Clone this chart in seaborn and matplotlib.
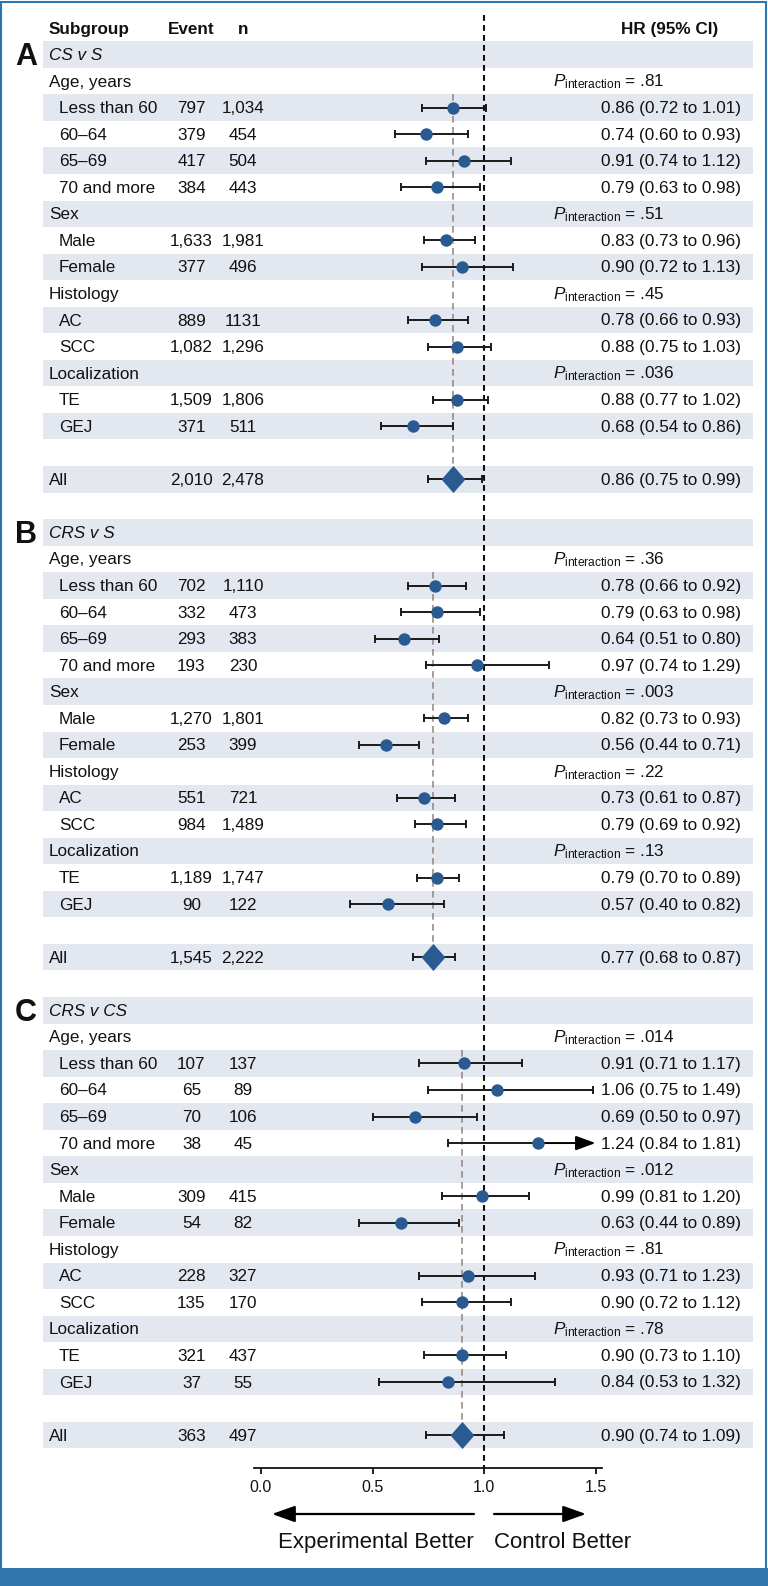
import numpy as np
import pandas as pd
import matplotlib
matplotlib.use("Agg")
import matplotlib.pyplot as plt
import seaborn as sns
from matplotlib.patches import Rectangle

# ---- data ----
panel_letters = ["A", "B", "C"]
comparisons = ["CS v S", "CRS v S", "CRS v CS"]
group_names = ["Age, years", "Sex", "Histology", "Localization"]
subgroup_names = [["Less than 60", "60\u201364", "65\u201369", "70 and more"],
                  ["Male", "Female"], ["AC", "SCC"], ["TE", "GEJ"]]

# A: CS v S (last entry is "All")
events_a = ["797", "379", "417", "384", "1,633", "377", "889", "1,082", "1,509", "371", "2,010"]
n_a = ["1,034", "454", "504", "443", "1,981", "496", "1131", "1,296", "1,806", "511", "2,478"]
hr_a = [0.86, 0.74, 0.91, 0.79, 0.83, 0.90, 0.78, 0.88, 0.88, 0.68, 0.86]
lo_a = [0.72, 0.60, 0.74, 0.63, 0.73, 0.72, 0.66, 0.75, 0.77, 0.54, 0.75]
hi_a = [1.01, 0.93, 1.12, 0.98, 0.96, 1.13, 0.93, 1.03, 1.02, 0.86, 0.99]
p_a = [".81", ".51", ".45", ".036"]

# B: CRS v S
events_b = ["702", "332", "293", "193", "1,270", "253", "551", "984", "1,189", "90", "1,545"]
n_b = ["1,110", "473", "383", "230", "1,801", "399", "721", "1,489", "1,747", "122", "2,222"]
hr_b = [0.78, 0.79, 0.64, 0.97, 0.82, 0.56, 0.73, 0.79, 0.79, 0.57, 0.77]
lo_b = [0.66, 0.63, 0.51, 0.74, 0.73, 0.44, 0.61, 0.69, 0.70, 0.40, 0.68]
hi_b = [0.92, 0.98, 0.80, 1.29, 0.93, 0.71, 0.87, 0.92, 0.89, 0.82, 0.87]
p_b = [".36", ".003", ".22", ".13"]

# C: CRS v CS
events_c = ["107", "65", "70", "38", "309", "54", "228", "135", "321", "37", "363"]
n_c = ["137", "89", "106", "45", "415", "82", "327", "170", "437", "55", "497"]
hr_c = [0.91, 1.06, 0.69, 1.24, 0.99, 0.63, 0.93, 0.90, 0.90, 0.84, 0.90]
lo_c = [0.71, 0.75, 0.50, 0.84, 0.81, 0.44, 0.71, 0.72, 0.73, 0.53, 0.74]
hi_c = [1.17, 1.49, 0.97, 1.81, 1.20, 0.89, 1.23, 1.12, 1.10, 1.32, 1.09]
p_c = [".014", ".012", ".81", ".78"]

x_ticks = [0.0, 0.5, 1.0, 1.5]
x_ticklabels = ["0.0", "0.5", "1.0", "1.5"]

panels = [
    (events_a, n_a, hr_a, lo_a, hi_a, p_a),
    (events_b, n_b, hr_b, lo_b, hi_b, p_b),
    (events_c, n_c, hr_c, lo_c, hi_c, p_c),
]

# ---- style ----
sns.set_theme(style="white")
plt.rcParams["font.family"] = ["Liberation Sans", "DejaVu Sans"]
plt.rcParams["mathtext.fontset"] = "custom"
plt.rcParams["mathtext.rm"] = "Liberation Sans"
plt.rcParams["mathtext.it"] = "Liberation Sans:italic"
plt.rcParams["mathtext.bf"] = "Liberation Sans:bold"

BLUE = "#2a5a92"
BAND = "#e2e7f0"
BROWN = "#9c8b84"
FRAME = "#3175ae"
FS = 12.3

W, H, DPI = 768, 1586, 100
X0, UNIT = 261.0, 223.0      # pixel of HR=0, pixels per HR unit
Y0, RH = 54.5, 26.55         # centre of first row, row height
AXIS_Y = 1468
XMAX = 1.5


def hx(px):
    """pixel column -> HR units"""
    return (px - X0) / UNIT


def row_y(p, i):
    return Y0 + (18 * p + i) * RH


# build a long table of plotted rows
records = []
for p, (ev, nn, hr, lo, hi, pv) in enumerate(panels):
    k = 0
    i = 1
    for g, subs in enumerate(subgroup_names):
        i += 1
        for s in subs:
            records.append(dict(panel=p, y=row_y(p, i), label=s, event=ev[k], n=nn[k],
                                hr=hr[k], lo=lo[k], hi=hi[k], kind="sub"))
            k += 1
            i += 1
    records.append(dict(panel=p, y=row_y(p, 16), label="All", event=ev[k], n=nn[k],
                        hr=hr[k], lo=lo[k], hi=hi[k], kind="all"))
df = pd.DataFrame(records)

fig = plt.figure(figsize=(W / DPI, H / DPI), dpi=DPI)
ax = fig.add_axes([0, 0, 1, 1])

# shaded bands
for p in range(3):
    for i in range(0, 17, 2):
        yc = row_y(p, i)
        ax.axhspan(yc - RH / 2, yc + RH / 2, xmin=43 / W, xmax=753 / W,
                   color=BAND, lw=0, zorder=0)

# reference line at HR = 1
ax.vlines(1.0, 15, AXIS_Y, colors="#111111", lw=1.5, linestyles=(0, (2.8, 2.0)), zorder=2)

# overall-estimate lines
for p in range(3):
    overall = df[(df.panel == p) & (df.kind == "all")].iloc[0]
    ax.vlines(overall.hr, row_y(p, 2) - RH / 2, overall.y, colors=BROWN, lw=1.2,
              linestyles=(0, (4, 2.6)), zorder=1)

# confidence intervals
clip = df.hi > XMAX
ok = df[~clip]
ax.errorbar(ok.hr, ok.y, xerr=[ok.hr - ok.lo, ok.hi - ok.hr], fmt="none",
            ecolor="#1a1a1a", elinewidth=1.4, capsize=3, capthick=1.4, zorder=3)
cut = df[clip]
ax.errorbar(cut.hr, cut.y, xerr=[cut.hr - cut.lo, cut.hr * 0], fmt="none",
            ecolor="#1a1a1a", elinewidth=1.4, capsize=3, capthick=1.4, zorder=3)
for _, r in cut.iterrows():
    ax.annotate("", xy=(XMAX, r.y), xytext=(r.hr, r.y),
                arrowprops=dict(arrowstyle="-|>,head_length=0.6,head_width=0.22",
                                mutation_scale=20, lw=1.4, color="black",
                                shrinkA=0, shrinkB=0), zorder=3)

# point estimates
sns.scatterplot(data=df[df.kind == "sub"], x="hr", y="y", color=BLUE, s=80,
                linewidth=0, ax=ax, zorder=5, legend=False)
diamond = [(0, 1), (0.88, 0), (0, -1), (-0.88, 0)]
sns.scatterplot(data=df[df.kind == "all"], x="hr", y="y", color=BLUE, s=380,
                marker=diamond, linewidth=0, ax=ax, zorder=5, legend=False)

# ---- text ----
BASE = 5.5  # baseline offset from row centre


def txt(px, y, s, ha="left", **kw):
    kw.setdefault("fontsize", FS)
    ax.text(hx(px), y, s, ha=ha, va="baseline", color="#111111", **kw)


txt(49, 34, "Subgroup", weight="bold")
txt(191.5, 34, "Event", ha="center", weight="bold")
txt(243, 34, "n", ha="center", weight="bold")
txt(718, 34, "HR (95% CI)", ha="right", weight="bold")

for p, (ev, nn, hr, lo, hi, pv) in enumerate(panels):
    txt(15, row_y(p, 0) + 10.5, panel_letters[p], weight="bold", fontsize=22)
    txt(49, row_y(p, 0) + BASE, comparisons[p], style="italic")
    i = 1
    for g, subs in enumerate(subgroup_names):
        yc = row_y(p, i) + BASE
        txt(49, yc, group_names[g])
        txt(553, yc, r"$\mathit{P}_{\mathrm{interaction}}$ = " + pv[g])
        i += 1 + len(subs)

for _, r in df.iterrows():
    yb = r.y + BASE
    txt(59 if r.kind == "sub" else 49, yb, r.label)
    txt(191.5, yb, r.event, ha="center")
    txt(243, yb, r.n, ha="center")
    txt(741, yb, f"{r.hr:.2f} ({r.lo:.2f} to {r.hi:.2f})", ha="right")

# ---- axis ----
ax.set_xlim(hx(0), hx(W))
ax.set_ylim(H, 0)
ax.set_xlabel("")
ax.set_ylabel("")
ax.set_yticks([])
for side in ["top", "left", "right"]:
    ax.spines[side].set_visible(False)
ax.spines["bottom"].set_position(("data", AXIS_Y))
ax.spines["bottom"].set_bounds(hx(254), hx(602))
ax.spines["bottom"].set_color("#111111")
ax.spines["bottom"].set_linewidth(1.3)
ax.set_xticks(x_ticks, x_ticklabels)
ax.tick_params(axis="x", direction="out", length=4, width=1.3, color="#111111",
               labelsize=11.5, labelcolor="#111111", pad=5, bottom=True)

# direction arrows
arrow_kw = dict(arrowstyle="-|>,head_length=0.7,head_width=0.25", mutation_scale=20,
                lw=1.6, color="black", shrinkA=0, shrinkB=0)
ax.annotate("", xy=(hx(272), 1514), xytext=(hx(474), 1514), arrowprops=arrow_kw)
ax.annotate("", xy=(hx(586), 1514), xytext=(hx(494), 1514), arrowprops=arrow_kw)
txt(474, 1548, "Experimental Better", ha="right", fontsize=16)
txt(494, 1548, "Control Better", fontsize=16)

# frame and bottom bar
fig.patches.append(Rectangle((0.001, 0.001), 0.997, 0.998, transform=fig.transFigure,
                             fill=False, ec=FRAME, lw=1.5, zorder=10))
fig.patches.append(Rectangle((0, 0), 1, 18 / H, transform=fig.transFigure,
                             fc=FRAME, ec="none", zorder=10))

fig.savefig("out.png", dpi=DPI)
